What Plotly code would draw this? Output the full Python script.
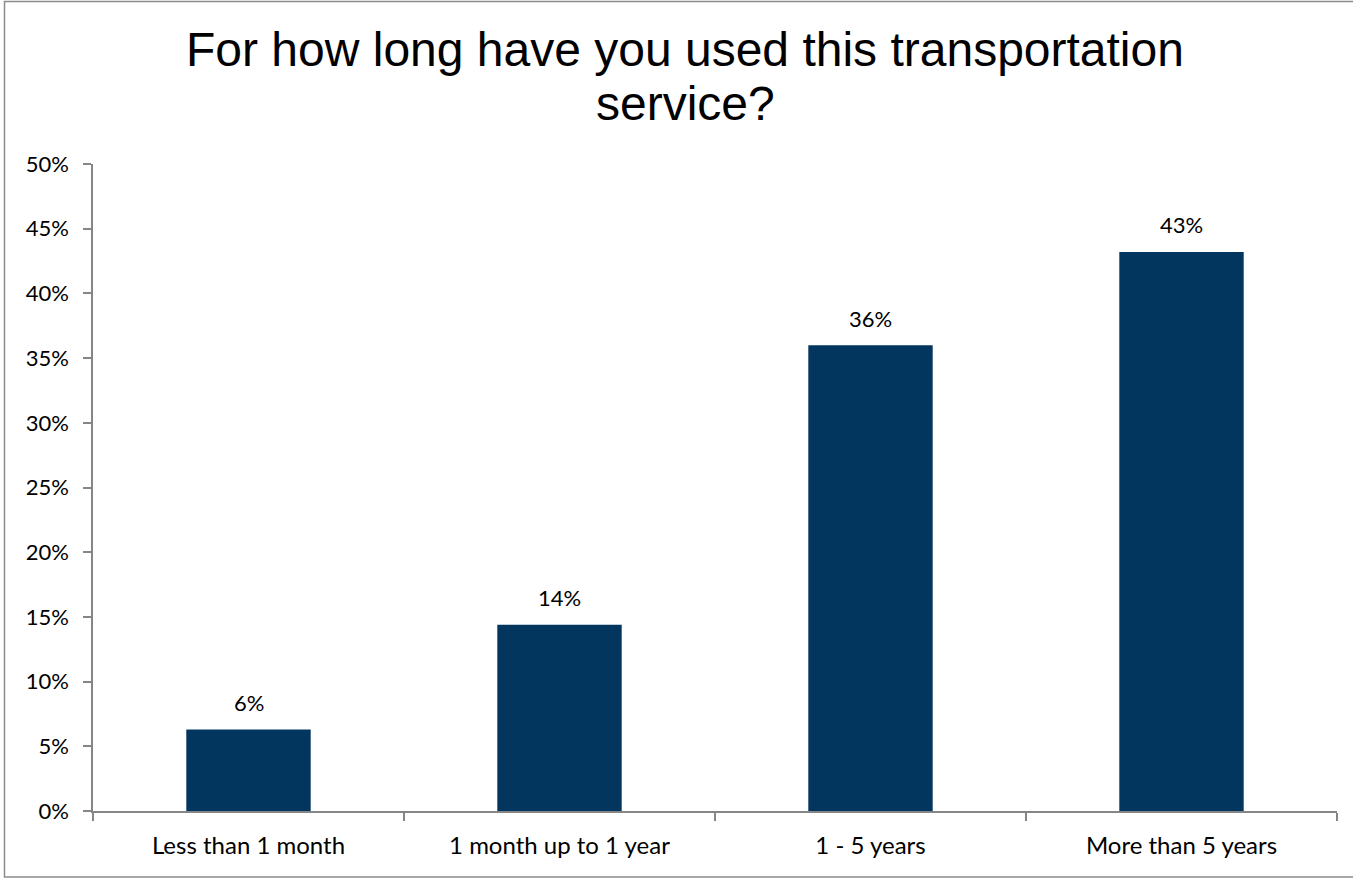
import plotly.graph_objects as go

categories = ["Less than 1 month", "1 month up to 1 year", "1 - 5 years", "More than 5 years"]
values = [0.063, 0.144, 0.360, 0.432]
labels = ["6%", "14%", "36%", "43%"]
title_lines = ["For how long have you used this transportation", "service?"]

W, H = 1353, 879
L, R, T, B = 93, 16, 164, 68
pw, ph = W - L - R, H - T - B

def px(x):
    return (x - L) / pw
def py(y):
    return 1 - (y - T) / ph

fig = go.Figure()
fig.add_trace(go.Bar(x=categories, y=values, marker=dict(color="#02365F", line=dict(width=0)),
                     width=0.4, showlegend=False, hoverinfo="skip"))
for c, v, t in zip(categories, values, labels):
    fig.add_annotation(x=c, y=v, text=t, showarrow=False, yanchor="middle", yshift=27,
                       font=dict(family="Lato", size=22, color="#000000"))

for line, cy in zip(title_lines, [50, 104]):
    fig.add_annotation(xref="paper", yref="paper", x=px(685), y=py(cy), text=line,
                       showarrow=False, xanchor="center", yanchor="middle",
                       font=dict(family="Liberation Sans", size=48, color="#000000"))

fig.add_shape(type="rect", xref="paper", yref="paper",
              x0=px(4.5), x1=px(1360), y0=py(877), y1=py(1.5),
              line=dict(color="#8c8c8c", width=1.5), fillcolor="rgba(0,0,0,0)", layer="below")

fig.update_layout(
    width=W, height=H,
    margin=dict(l=L, r=R, t=T, b=B),
    paper_bgcolor="white", plot_bgcolor="white",
    bargap=0.6,
    xaxis=dict(type="category", showline=True, linecolor="#868686", linewidth=1.5,
               ticks="outside", tickson="boundaries", ticklen=8, tickcolor="#868686", tickwidth=1.5,
               ticklabelstandoff=12,
               showgrid=False, tickfont=dict(family="Lato", size=24, color="#000000")),
    yaxis=dict(range=[0, 0.5], dtick=0.05, tickformat=".0%", showline=True, linecolor="#868686",
               linewidth=1.5, ticks="outside", ticklen=8, tickcolor="#868686", tickwidth=1.5,
               ticklabelstandoff=10,
               showgrid=False, zeroline=False, tickfont=dict(family="Lato", size=22, color="#000000")),
)

fig.write_html("out.html", config={"displayModeBar": False},
               post_script="document.body.style.margin='0';")
